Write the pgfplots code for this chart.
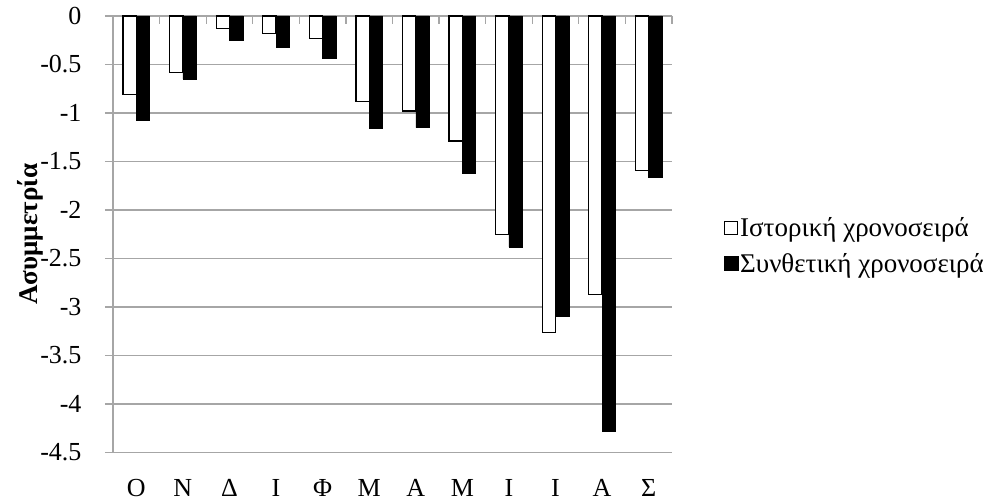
\documentclass[border=0pt]{standalone}
\usepackage{fontspec}
\setmainfont{Liberation Serif}
\usepackage{pgfplots}
\pgfplotsset{compat=1.18}
\definecolor{gridgray}{RGB}{166,166,166}
\begin{document}
\begin{tikzpicture}[font=\fontsize{26bp}{30bp}\selectfont]
\useasboundingbox (-113bp,-49.5bp) rectangle (888bp,452.5bp);
\begin{axis}[
  at={(0,0)}, anchor=south west,
  scale only axis, width=559bp, height=436.5bp,
  ymin=-4.5, ymax=0, xmin=-0.5, xmax=11.5,
  ybar=0pt, bar width=13.3bp,
  ytick={-4.5,-4,-3.5,-3,-2.5,-2,-1.5,-1,-0.5,0},
  yticklabels={-4.5,-4,-3.5,-3,-2.5,-2,-1.5,-1,-0.5,0},
  ymajorgrids, grid style={gridgray, line width=1.2bp},
  axis x line*=top, axis y line*=left,
  axis line style={gridgray, line width=1.2bp, -},
  xtick={-0.5,0.5,1.5,2.5,3.5,4.5,5.5,6.5,7.5,8.5,9.5,10.5,11.5},
  xticklabels={Ο,Ν,Δ,Ι,Φ,Μ,Α,Μ,Ι,Ι,Α,Σ,{}},
  tick align=inside,
  major tick length=8bp,
  tick style={gridgray, line width=1.2bp},
  major y tick style={xshift=-8bp},
  xticklabel style={anchor=base, yshift=-480.5bp, xshift=23.29bp},
  yticklabel style={anchor=east, xshift=-28bp},
  ylabel={\fontsize{27bp}{30bp}\selectfont\bfseries Ασυμμετρία},
  ylabel style={at={(axis description cs:-0.1485,0.5)}, anchor=center},
  legend style={draw=none, fill=none, at={(axis description cs:1.087,0.474)},
    anchor=west, row sep=12bp, nodes={inner sep=1.5bp}, font=\fontsize{27bp}{30bp}\selectfont},
  legend cell align=left,
]
\addplot[draw=black, fill=white, line width=1.3bp,
  legend image code/.code={\draw[draw=black, fill=white, line width=1.2bp] (0bp,-6.5bp) rectangle (13bp,6.5bp);}]
  coordinates {(0,-0.81) (1,-0.58) (2,-0.13) (3,-0.18) (4,-0.23) (5,-0.88) (6,-0.98) (7,-1.29) (8,-2.25) (9,-3.26) (10,-2.87) (11,-1.59)};
\addlegendentry{Ιστορική χρονοσειρά}
\addplot[draw=black, fill=black, line width=0.5bp,
  legend image code/.code={\fill[black] (0bp,-7bp) rectangle (14bp,7bp);}]
  coordinates {(0,-1.07) (1,-0.65) (2,-0.25) (3,-0.32) (4,-0.44) (5,-1.16) (6,-1.15) (7,-1.62) (8,-2.38) (9,-3.10) (10,-4.28) (11,-1.66)};
\addlegendentry{Συνθετική χρονοσειρά}
\end{axis}
\end{tikzpicture}
\end{document}
